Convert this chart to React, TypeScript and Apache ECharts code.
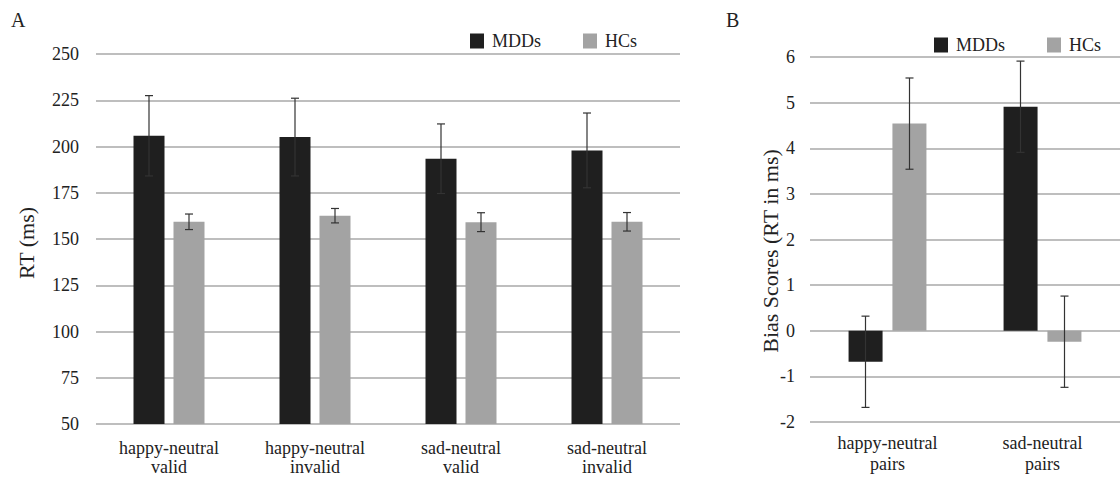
import React, { useEffect, useRef } from "react";
import * as echarts from "echarts";

const categoriesA = ["happy-neutral\nvalid", "happy-neutral\ninvalid", "sad-neutral\nvalid", "sad-neutral\ninvalid"];
const mddRT = [205.8, 205.1, 193.4, 197.9];
const mddRTErr = [21.7, 21.0, 18.8, 20.2];
const hcRT = [159.3, 162.6, 159.1, 159.3];
const hcRTErr = [4.2, 3.9, 5.1, 5.0];
const ticksA = { min: 50, max: 250, interval: 25 };

const categoriesB = ["happy-neutral\npairs", "sad-neutral\npairs"];
const mddBias = [-0.68, 4.91];
const mddBiasErr = [1.0, 1.0];
const hcBias = [4.54, -0.24];
const hcBiasErr = [1.0, 1.0];
const ticksB = { min: -2, max: 6, interval: 1 };

const FONT = "Liberation Serif";
const DARK = "#1f1f1f";
const GRAY = "#a3a3a3";
const GRID_LINE = "#a8a8a8";
const TEXT = "#222";

function errSeries(name: string, axis: number, means: number[], errs: number[], offset: number) {
  return {
    name,
    type: "custom",
    xAxisIndex: axis,
    yAxisIndex: axis,
    z: 10,
    data: means.map((m, i) => [i, m, errs[i]]),
    renderItem: (params: any, api: any) => {
      const i = api.value(0);
      const m = api.value(1);
      const e = api.value(2);
      const top = api.coord([i, m + e]);
      const bot = api.coord([i, m - e]);
      const cx = top[0] + offset;
      const cap = 4;
      const style = { stroke: "#333", lineWidth: 1.2 };
      return {
        type: "group",
        children: [
          { type: "line", shape: { x1: cx, y1: top[1], x2: cx, y2: bot[1] }, style },
          { type: "line", shape: { x1: cx - cap, y1: top[1], x2: cx + cap, y2: top[1] }, style },
          { type: "line", shape: { x1: cx - cap, y1: bot[1], x2: cx + cap, y2: bot[1] }, style },
        ],
      };
    },
  };
}

export default function App() {
  const ref = useRef<HTMLDivElement>(null);
  useEffect(() => {
    if (!ref.current) return;
    const chart = echarts.init(ref.current, null, { renderer: "svg" });
    const yAxisCommon = {
      type: "value",
      axisLine: { show: false },
      axisTick: { show: false },
      splitLine: { show: true, lineStyle: { color: GRID_LINE, width: 1.5 } },
    };
    const xAxisCommon = {
      type: "category",
      axisLine: { show: false },
      axisTick: { show: false },
      splitLine: { show: false },
    };
    const legendCommon = {
      icon: "rect",
      itemWidth: 14,
      itemHeight: 15,
      data: ["MDDs", "HCs"],
      textStyle: { fontFamily: FONT, fontSize: 18, color: TEXT, padding: [0, 0, 0, 3] },
      selectedMode: false,
    };
    chart.setOption({
      animation: false,
      backgroundColor: "#fff",
      textStyle: { fontFamily: FONT },
      legend: [
        { ...legendCommon, left: 465, top: 27, itemGap: 42 },
        { ...legendCommon, left: 929, top: 31, itemGap: 42 },
      ],
      grid: [
        { left: 96, top: 54, width: 584, height: 370 },
        { left: 810, top: 57, width: 316, height: 365 },
      ],
      xAxis: [
        {
          ...xAxisCommon,
          gridIndex: 0,
          data: categoriesA,
          axisLabel: { fontFamily: FONT, fontSize: 18, color: TEXT, lineHeight: 19, margin: 14 },
        },
        {
          ...xAxisCommon,
          gridIndex: 1,
          data: categoriesB,
          axisLabel: { fontFamily: FONT, fontSize: 18, color: TEXT, lineHeight: 21, margin: 10 },
        },
      ],
      yAxis: [
        {
          ...yAxisCommon,
          gridIndex: 0,
          ...ticksA,
          axisLabel: { fontFamily: FONT, fontSize: 18, color: TEXT, margin: 17 },
        },
        {
          ...yAxisCommon,
          gridIndex: 1,
          ...ticksB,
          axisLabel: { fontFamily: FONT, fontSize: 18, color: TEXT, margin: 15 },
        },
      ],
      graphic: [
        { type: "text", left: 11, top: 10, style: { text: "A", fontFamily: FONT, fontSize: 20, fill: TEXT } },
        { type: "text", left: 726, top: 10, style: { text: "B", fontFamily: FONT, fontSize: 20, fill: TEXT } },
        {
          type: "text",
          x: 26,
          y: 243,
          rotation: Math.PI / 2,
          style: { text: "RT (ms)", fontFamily: FONT, fontSize: 22, fill: TEXT, align: "center", verticalAlign: "middle" },
        },
        {
          type: "text",
          x: 770,
          y: 251,
          rotation: Math.PI / 2,
          style: {
            text: "Bias Scores (RT in ms)",
            fontFamily: FONT,
            fontSize: 22,
            fill: TEXT,
            align: "center",
            verticalAlign: "middle",
          },
        },
      ],
      series: [
        { name: "MDDs", type: "bar", xAxisIndex: 0, yAxisIndex: 0, data: mddRT, barWidth: 31, barGap: "29%", itemStyle: { color: DARK } },
        { name: "HCs", type: "bar", xAxisIndex: 0, yAxisIndex: 0, data: hcRT, barWidth: 31, barGap: "29%", itemStyle: { color: GRAY } },
        { name: "MDDs", type: "bar", xAxisIndex: 1, yAxisIndex: 1, data: mddBias, barWidth: 34, barGap: "29%", itemStyle: { color: DARK } },
        { name: "HCs", type: "bar", xAxisIndex: 1, yAxisIndex: 1, data: hcBias, barWidth: 34, barGap: "29%", itemStyle: { color: GRAY } },
        errSeries("errMddA", 0, mddRT, mddRTErr, -20),
        errSeries("errHcA", 0, hcRT, hcRTErr, 20),
        errSeries("errMddB", 1, mddBias, mddBiasErr, -22),
        errSeries("errHcB", 1, hcBias, hcBiasErr, 22),
      ],
    });
    return () => chart.dispose();
  }, []);
  return (
    <div
      ref={ref}
      style={{ position: "absolute", left: 0, top: 0, width: 1120, height: 477, background: "#fff" }}
    />
  );
}
